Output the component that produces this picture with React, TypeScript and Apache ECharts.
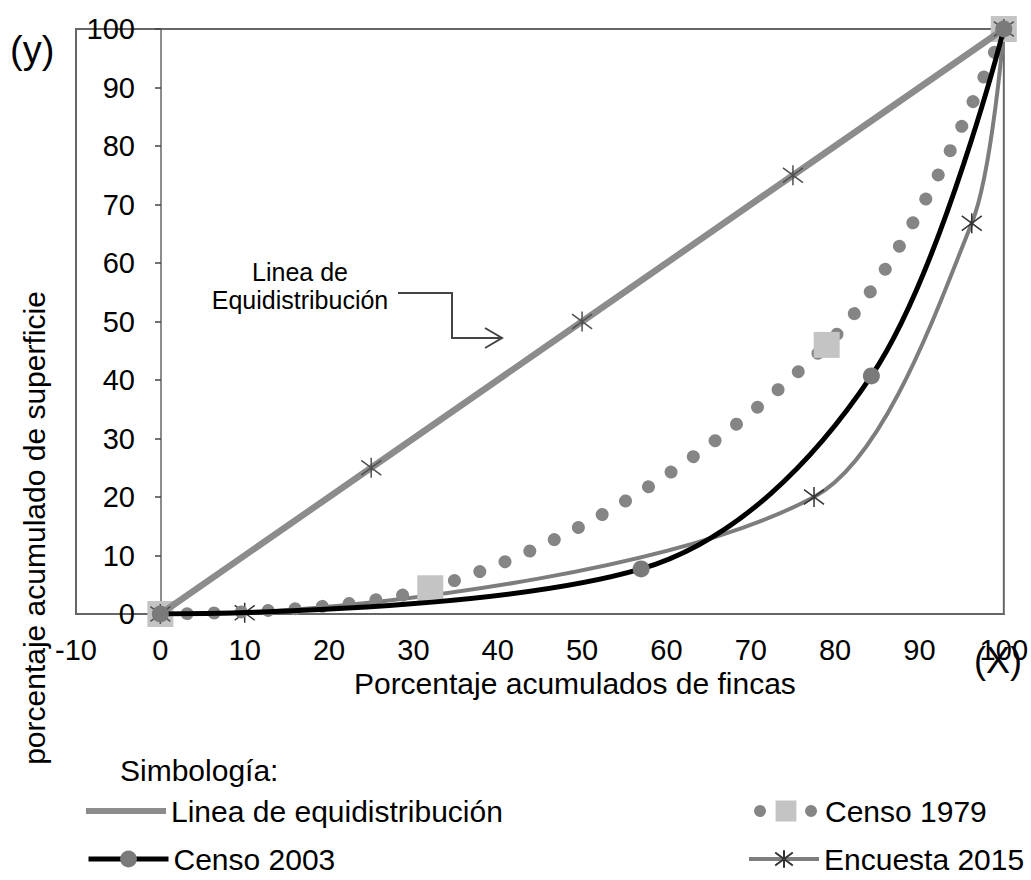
import React, { useEffect, useRef } from "react";
import * as echarts from "echarts";

// ---- data ----
const xTickRange = { min: -10, max: 100, step: 10 };
const yTickRange = { min: 0, max: 100, step: 10 };

const equidistX = [0, 25, 50, 75, 100];
const equidistY = [0, 25, 50, 75, 100];

const censo1979X = [0, 32, 79, 100];
const censo1979Y = [0, 4.4, 46, 100];

const censo2003X = [0, 57, 84.3, 100];
const censo2003Y = [0, 7.7, 40.7, 100];

const encuesta2015X = [0, 10, 77.5, 96.2, 100];
const encuesta2015Y = [0, 0.2, 20, 66.8, 100];

const seriesNames = [
  "Linea de equidistribución",
  "Censo 1979",
  "Censo 2003",
  "Encuesta 2015",
];

const FONT = "'Liberation Sans', Arial, sans-serif";
const STAR = "path://M-1,-1L1,1M-1,1L1,-1M0,-1.35L0,1.35";

const zip = (xs: number[], ys: number[]) => xs.map((x, i) => [x, ys[i]]);

export default function App() {
  const ref = useRef<HTMLDivElement>(null);
  useEffect(() => {
    const chart = echarts.init(ref.current!, null, { renderer: "svg" });
    const legendText = { fontSize: 30, fontFamily: FONT, color: "#000" };
    const option: any = {
      animation: false,
      backgroundColor: "#fff",
      grid: {
        left: 76,
        right: 25,
        top: 29,
        bottom: 266,
        show: true,
        borderColor: "#666",
        borderWidth: 2,
        containLabel: false,
      },
      xAxis: {
        type: "value",
        min: xTickRange.min,
        max: xTickRange.max,
        interval: xTickRange.step,
        splitLine: { show: false },
        axisLine: { show: true, onZero: false, lineStyle: { color: "#666", width: 2 } },
        axisTick: { show: false },
        axisLabel: { fontSize: 29, fontFamily: FONT, color: "#000", margin: 21 },
        name: "Porcentaje acumulados de fincas",
        nameLocation: "middle",
        nameGap: 54,
        nameTextStyle: { fontSize: 30, fontFamily: FONT, color: "#000", padding: [0, 0, 0, 70] },
      },
      yAxis: {
        type: "value",
        min: yTickRange.min,
        max: yTickRange.max,
        interval: yTickRange.step,
        position: "left",
        offset: -85,
        splitLine: { show: false },
        axisLine: { show: true, onZero: false, lineStyle: { color: "#666", width: 1.5 } },
        axisTick: { show: true, length: 6, lineStyle: { color: "#444", width: 1.5 } },
        axisLabel: { fontSize: 29, fontFamily: FONT, color: "#000", margin: 26 },
      },
      legend: [
        {
          data: [seriesNames[0]], left: 86, top: 796, itemWidth: 80, itemHeight: 6,
          icon: "rect", padding: 0, itemGap: 0, textStyle: legendText, selectedMode: false,
          itemStyle: { color: "#8c8c8c", borderWidth: 0 },
        },
        {
          data: [seriesNames[1]], left: 754, top: 796, itemWidth: 52, itemHeight: 26,
          padding: 0, itemGap: 0, textStyle: { ...legendText, padding: [0, 0, 0, 8] }, selectedMode: false,
          itemStyle: { borderWidth: 0 },
          lineStyle: { width: 12, color: "#858585", type: [0.01, 25.5], cap: "round" },
        },
        {
          data: [seriesNames[2]], left: 86, top: 844, itemWidth: 80, itemHeight: 21,
          padding: 0, itemGap: 0, textStyle: legendText, selectedMode: false,
          lineStyle: { width: 5, color: "#000", type: "solid" },
        },
        {
          data: [seriesNames[3]], left: 747, top: 844, itemWidth: 70, itemHeight: 22,
          padding: 0, itemGap: 0, textStyle: legendText, selectedMode: false,
          lineStyle: { width: 4, color: "#7d7d7d", type: "solid" },
        },
      ],
      series: [
        {
          name: seriesNames[3],
          type: "line",
          smooth: 0.28,
          data: zip(encuesta2015X, encuesta2015Y),
          symbol: STAR,
          symbolSize: 20,
          itemStyle: { color: "#7d7d7d", borderColor: "#333", borderWidth: 1.5 },
          lineStyle: { color: "#7d7d7d", width: 4 },
          z: 2,
        },
        {
          name: seriesNames[1],
          type: "line",
          smooth: 0.35,
          data: zip(censo1979X, censo1979Y),
          symbol: "rect",
          symbolSize: 26,
          itemStyle: { color: "#c4c4c4" },
          lineStyle: { color: "#858585", width: 13, type: [0.01, 27], cap: "round" },
          z: 3,
        },
        {
          name: seriesNames[0],
          type: "line",
          data: zip(equidistX, equidistY),
          symbol: STAR,
          symbolSize: 20,
          itemStyle: { color: "#8c8c8c", borderColor: "#505050", borderWidth: 1.5 },
          lineStyle: { color: "#8c8c8c", width: 6.5 },
          z: 4,
        },
        {
          name: seriesNames[2],
          type: "line",
          smooth: 0.35,
          data: zip(censo2003X, censo2003Y),
          symbol: "circle",
          symbolSize: 17,
          itemStyle: { color: "#7a7a7a" },
          lineStyle: { color: "#000", width: 5 },
          z: 5,
        },
      ],
      graphic: [
        {
          type: "text", x: 10, y: 50,
          style: { text: "(y)", fontSize: 38, fontFamily: FONT, fill: "#000", align: "left", verticalAlign: "middle" },
        },
        {
          type: "text", x: 998, y: 660,
          style: { text: "(X)", fontSize: 36, fontFamily: FONT, fill: "#000", align: "center", verticalAlign: "middle" },
        },
        {
          type: "text", x: 34, y: 528, rotation: Math.PI / 2,
          style: { text: "porcentaje acumulado de superficie", fontSize: 30, fontFamily: FONT, fill: "#000", align: "center", verticalAlign: "middle" },
        },
        {
          type: "text", x: 300, y: 286,
          style: { text: "Linea de\nEquidistribución", fontSize: 25, lineHeight: 28, fontFamily: FONT, fill: "#000", align: "center", verticalAlign: "middle" },
        },
        {
          type: "polyline",
          shape: { points: [[398, 293], [452, 293], [452, 338], [501, 338]] },
          style: { stroke: "#444", lineWidth: 2, fill: null },
        },
        {
          type: "polyline",
          shape: { points: [[485, 328], [502, 338], [485, 348]] },
          style: { stroke: "#444", lineWidth: 2, fill: null },
        },
        {
          type: "text", x: 120, y: 770,
          style: { text: "Simbología:", fontSize: 30, fontFamily: FONT, fill: "#000", align: "left", verticalAlign: "middle" },
        },
      ],
    };
    chart.setOption(option);
    return () => chart.dispose();
  }, []);
  return (
    <div
      ref={ref}
      style={{ position: "absolute", left: 0, top: 0, width: 1031, height: 880, background: "#fff" }}
    />
  );
}
